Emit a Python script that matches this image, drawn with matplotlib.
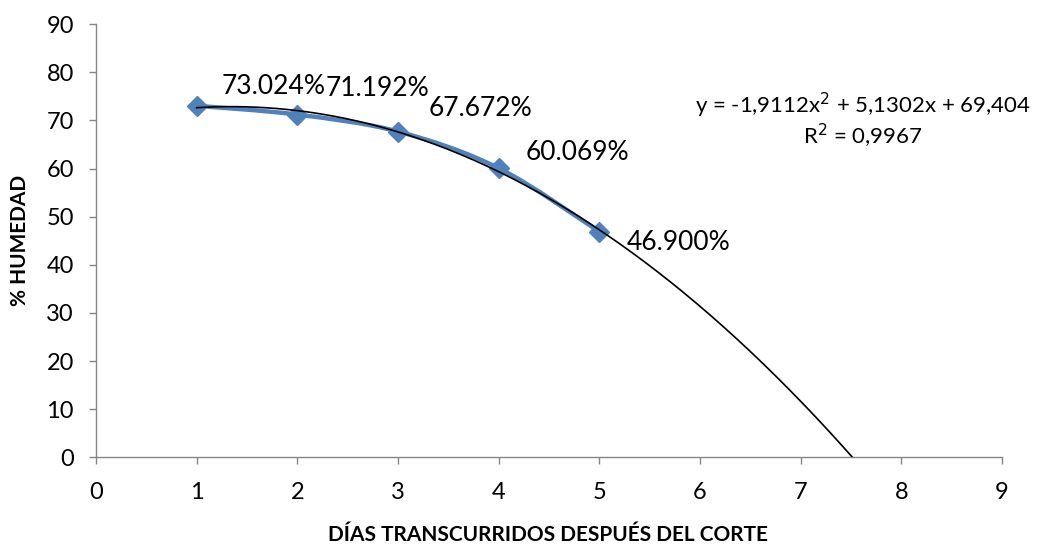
import numpy as np
import matplotlib.pyplot as plt
from matplotlib.path import Path
from matplotlib.patches import PathPatch

plt.rcParams['font.family'] = ['Lato', 'DejaVu Sans']

# días después del corte y humedad medida (%)
dias = [1, 2, 3, 4, 5]
humedad = [73.024, 71.192, 67.672, 60.069, 46.900]
etiquetas = ['73.024%', '71.192%', '67.672%', '60.069%', '46.900%']

# coeficientes de la tendencia polinómica de grado 2
coef = [-1.9112, 5.1302, 69.404]
r2 = 0.9967

azul = '#4F81BD'
gris = '#868686'

fig = plt.figure(figsize=(10.39, 5.56), dpi=100)
ax = fig.add_axes([0.0924, 0.1772, 0.872, 0.7796])

# curva suavizada tipo Catmull-Rom entre los puntos
xs = np.array(dias, float)
ys = np.array(humedad, float)
verts = [(xs[0], ys[0])]
codes = [Path.MOVETO]
for i in range(len(xs) - 1):
    p0 = np.array([xs[max(i - 1, 0)], ys[max(i - 1, 0)]])
    p1 = np.array([xs[i], ys[i]])
    p2 = np.array([xs[i + 1], ys[i + 1]])
    p3 = np.array([xs[min(i + 2, len(xs) - 1)], ys[min(i + 2, len(xs) - 1)]])
    c1 = p1 + (p2 - p0) / 6
    c2 = p2 - (p3 - p1) / 6
    verts += [tuple(c1), tuple(c2), tuple(p2)]
    codes += [Path.CURVE4] * 3
ax.add_patch(PathPatch(Path(verts, codes), facecolor='none', edgecolor=azul,
                       lw=3.2, capstyle='round', joinstyle='round', zorder=2))
ax.plot(dias, humedad, linestyle='none', marker='D', markersize=10,
        color=azul, zorder=3)

# línea de tendencia hasta cortar el eje x
raices = np.roots(coef)
x_fin = max(r.real for r in raices if abs(r.imag) < 1e-9)
xt = np.linspace(dias[0], x_fin, 200)
ax.plot(xt, np.polyval(coef, xt), color='black', lw=1.2, zorder=4)

# etiquetas de datos
desplaz = [(25, 19), (28, 26), (31, 23), (27, 16), (27, -11)]
for x, y, t, d in zip(dias, humedad, etiquetas, desplaz):
    ax.annotate(t, (x, y), xytext=d, textcoords='offset pixels',
                ha='left', va='center', fontsize=19, zorder=5)

ecuacion = ('y = -1,9112x$^{2}$ + 5,1302x + 69,404\n'
            'R$^{2}$ = ' + f'{r2:.4f}'.replace('.', ','))
ax.text(7.62, 70.0, ecuacion, ha='center', va='center',
        multialignment='center', linespacing=1.05, fontsize=16)

ax.set_xlim(0, 9)
ax.set_ylim(0, 90)
ax.set_xticks(range(0, 10))
ax.set_yticks(range(0, 91, 10))
ax.tick_params(labelsize=17, length=5, width=1, color=gris)
ax.tick_params(axis='x', pad=13)
ax.tick_params(axis='y', pad=11)
for s in ['top', 'right']:
    ax.spines[s].set_visible(False)
for s in ['left', 'bottom']:
    ax.spines[s].set_color(gris)
    ax.spines[s].set_linewidth(1)

fig.text(0.527, 0.038, 'DÍAS TRANSCURRIDOS DESPUÉS DEL CORTE', ha='center',
         va='center', fontsize=15, fontweight='bold')
fig.text(0.019, 0.568, '% HUMEDAD', rotation=90, ha='center', va='center',
         fontsize=15, fontweight='bold')

fig.savefig('out.png', dpi=100)
